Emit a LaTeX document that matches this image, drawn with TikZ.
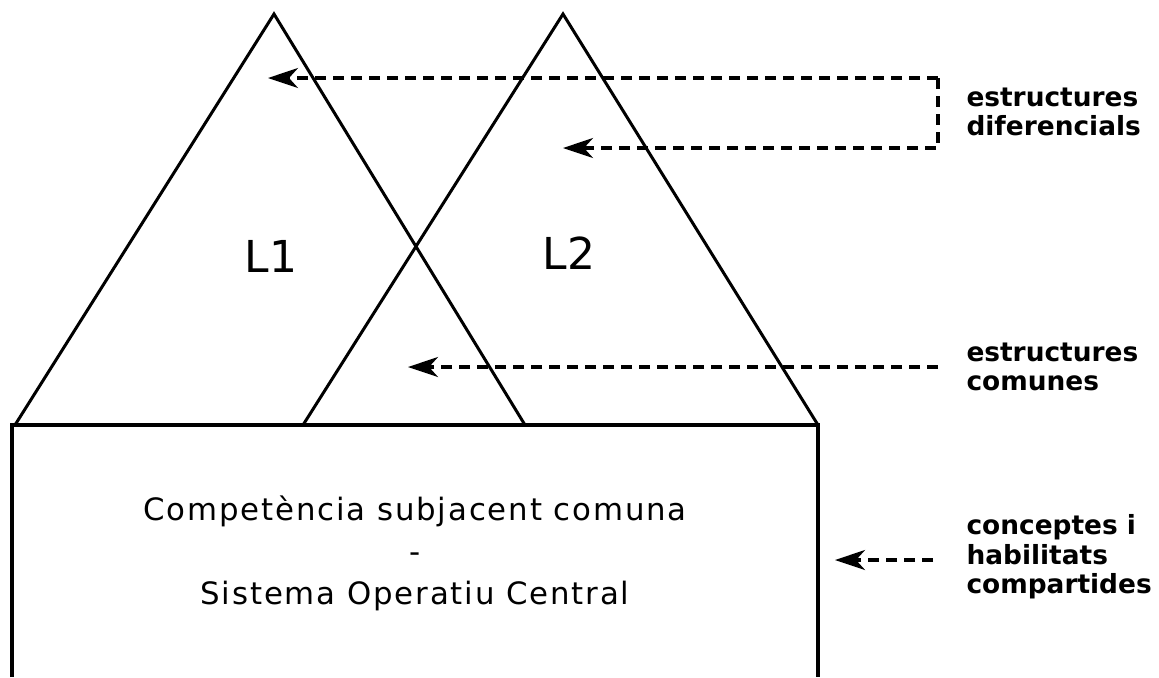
\documentclass[tikz,border=0pt]{standalone}
\usepackage{fontspec}
\setmainfont{DejaVu Sans}
\newfontfamily\widefont[LetterSpace=6]{DejaVu Sans}
\usetikzlibrary{arrows.meta}

\begin{document}
\begin{tikzpicture}[x=0.5pt,y=-0.5pt,line width=1.5pt,
  lbl/.style={anchor=west,align=left,inner sep=0pt,font=\fontsize{13.2}{14.8}\selectfont\bfseries},
  ptr/.style={dash pattern=on 5.5pt off 3.5pt,line width=1.6pt,-{Stealth[length=15pt,width=10pt,inset=4.5pt]}}]
\useasboundingbox(0,0)rectangle(1159,677);
% base and the two languages
\draw[line width=1.8pt](12,677)--(12,425)--(818,425)--(818,677);
\draw(15,425)--(274,14)--(525,425);
\draw(303,425)--(563,14)--(818,425);
\node (l1) at (271,256){\fontsize{22}{26}\selectfont L1};
\node (l2) at (569,253){\fontsize{22}{26}\selectfont L2};
\node (csc) [align=center,font=\widefont\fontsize{15.4}{21}\selectfont] at (415,553)
  {Compet\`encia subjacent comuna\\-\\Sistema Operatiu Central};
% labels on the right
\node (dif) [lbl] at (965,112){estructures\\diferencials};
\node (com) [lbl] at (965,367){estructures\\comunes};
\node (cpt) [lbl] at (965,557){conceptes i\\habilitats\\compartides};
\coordinate (d1) at (938,78);\coordinate (d2) at (938,148);
\coordinate (t1) at (268,78);\coordinate (t2) at (563,148);
\coordinate (c1) at (938,367);\coordinate (t3) at (408,367);
\coordinate (h1) at (933,560);\coordinate (t4) at (835,560);
\draw[ptr](d1)--(t1);
\draw[ptr](d1)--(d2)--(t2);
\draw[ptr](c1)--(t3);
\draw[ptr](h1)--(t4);
\end{tikzpicture}
\end{document}
